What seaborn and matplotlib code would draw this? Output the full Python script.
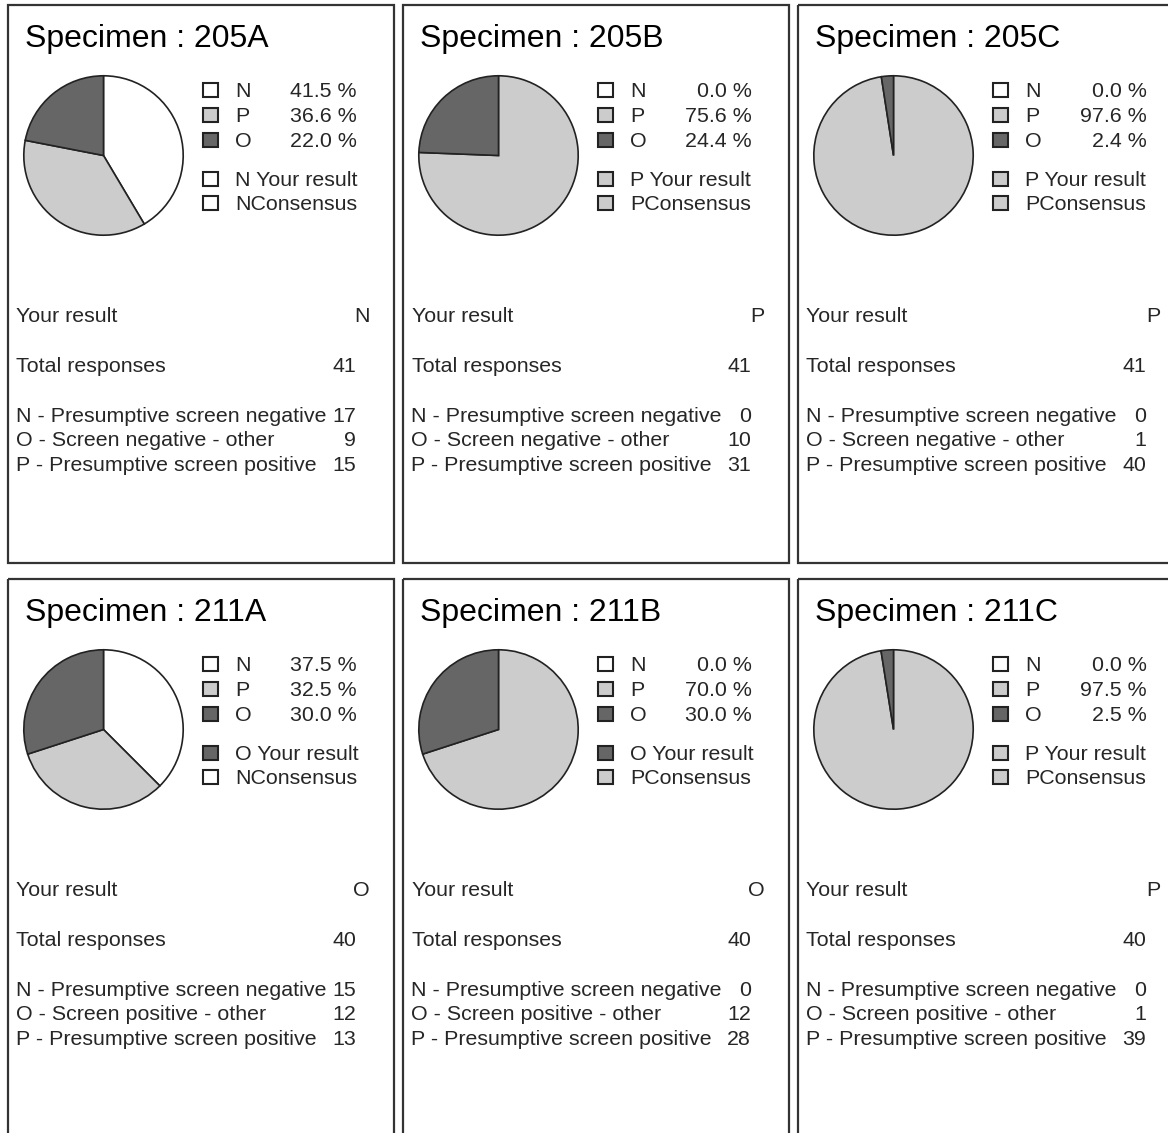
import matplotlib
matplotlib.use("Agg")
import matplotlib.pyplot as plt
from matplotlib.patches import Rectangle
import seaborn as sns

# Proficiency-testing summary: one panel per specimen
specimens = ["205A", "205B", "205C", "211A", "211B", "211C"]
n_counts = [17, 0, 0, 15, 0, 0]
o_counts = [9, 10, 1, 12, 12, 1]
p_counts = [15, 31, 40, 13, 28, 39]
your_result = ["N", "P", "P", "O", "O", "P"]
consensus = ["N", "P", "P", "N", "P", "P"]
o_descriptions = ["Screen negative - other"] * 3 + ["Screen positive - other"] * 3

categories = ["N", "P", "O"]
category_colors = {"N": "#ffffff", "P": "#cccccc", "O": "#666666"}

sns.set_theme(style="white")
plt.rcParams["font.family"] = ["Liberation Sans", "DejaVu Sans"]

W, H = 1168, 1133
fig = plt.figure(figsize=(W / 100, H / 100), dpi=100)
bg = fig.add_axes([0, 0, 1, 1])
bg.set_xlim(0, W)
bg.set_ylim(H, 0)
bg.axis("off")

col_x = [8, 403, 798]
row_y = [5, 579]
panel_w, panel_h = 386, 558
pie_r = 80.5

title_size = 23
body_size = 15.4

for i, spec in enumerate(specimens):
    x0 = col_x[i % 3]
    y0 = row_y[i // 3]
    counts = {"N": n_counts[i], "P": p_counts[i], "O": o_counts[i]}
    total = sum(counts.values())

    bg.add_patch(Rectangle((x0, y0), panel_w, panel_h, fill=False,
                           edgecolor="#333333", linewidth=1.6))
    bg.text(x0 + 17, y0 + 42, f"Specimen : {spec}", fontsize=title_size,
            ha="left", va="baseline", color="black")

    # pie chart of response categories
    cx, cy = x0 + 95.5, y0 + 150.5
    ax = fig.add_axes([(cx - pie_r) / W, (H - cy - pie_r) / H,
                       2 * pie_r / W, 2 * pie_r / H])
    ax.pie([counts[c] for c in categories],
           colors=[category_colors[c] for c in categories],
           startangle=90, counterclock=False,
           wedgeprops=dict(edgecolor="#222222", linewidth=1.2))
    ax.set_xlim(-1.01, 1.01)
    ax.set_ylim(-1.01, 1.01)
    ax.set_aspect("equal")
    ax.axis("off")

    # legend with percentages
    legend_rows = [(c, f"{100 * counts[c] / total:.1f} %", 92 + 25 * k)
                   for k, c in enumerate(categories)]
    for c, pct, base in legend_rows:
        bg.add_patch(Rectangle((x0 + 194.5, y0 + base - 14), 15, 14,
                               facecolor=category_colors[c],
                               edgecolor="#222222", linewidth=1.5))
        bg.text(x0 + 227, y0 + base, c, fontsize=body_size, ha="left",
                va="baseline")
        bg.text(x0 + 349, y0 + base, pct, fontsize=body_size, ha="right",
                va="baseline")
    for code, label, base in [(your_result[i], " Your result", 181),
                              (consensus[i], "Consensus", 205)]:
        bg.add_patch(Rectangle((x0 + 194.5, y0 + base - 14), 15, 14,
                               facecolor=category_colors[code],
                               edgecolor="#222222", linewidth=1.5))
        bg.text(x0 + 227, y0 + base, code + label, fontsize=body_size,
                ha="left", va="baseline")

    # summary lines
    bg.text(x0 + 8.5, y0 + 317, "Your result", fontsize=body_size,
            ha="left", va="baseline")
    bg.text(x0 + 362, y0 + 317, your_result[i], fontsize=body_size,
            ha="right", va="baseline")
    bg.text(x0 + 8.5, y0 + 367, "Total responses", fontsize=body_size,
            ha="left", va="baseline")
    bg.text(x0 + 348, y0 + 367, str(total), fontsize=body_size,
            ha="right", va="baseline")

    lines = [("N - Presumptive screen negative", n_counts[i]),
             (f"O - {o_descriptions[i]}", o_counts[i]),
             ("P - Presumptive screen positive", p_counts[i])]
    for k, (label, val) in enumerate(lines):
        base = 417 + 24.5 * k
        bg.text(x0 + 8, y0 + base, label, fontsize=body_size,
                ha="left", va="baseline")
        bg.text(x0 + 348, y0 + base, str(val), fontsize=body_size,
                ha="right", va="baseline")

fig.savefig("out.png", dpi=100, facecolor="white")
